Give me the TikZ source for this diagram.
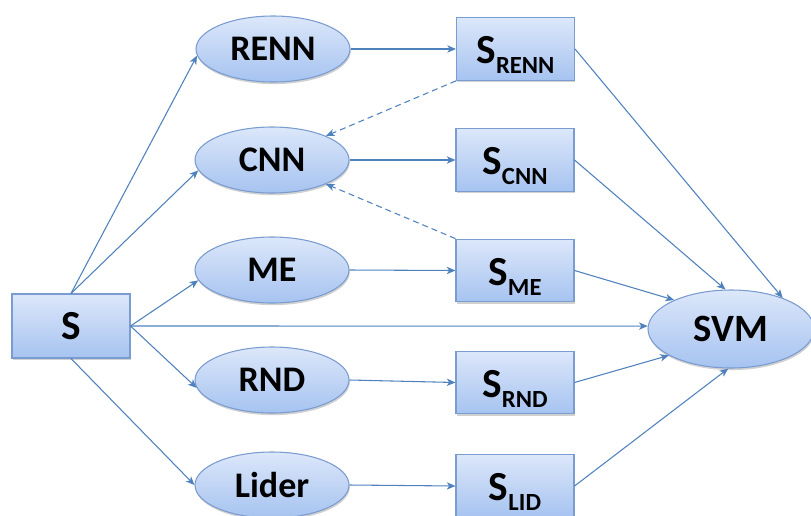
\documentclass[tikz,border=0pt]{standalone}
\usepackage{fontspec}
\setmainfont{Carlito}
\usetikzlibrary{shapes.geometric,arrows.meta,shadows}
\definecolor{edgeblue}{HTML}{4F81BD}
\definecolor{bordblue}{HTML}{7A9CD0}
\definecolor{filltop}{HTML}{DCE7FA}
\definecolor{fillbot}{HTML}{A6C3F0}
\tikzset{
  x=0.75pt, y=-0.75pt,
  shaded/.style={draw=bordblue, line width=0.8pt, top color=filltop, bottom color=fillbot,
    drop shadow={shadow xshift=0.6pt, shadow yshift=-1.6pt, opacity=0.3, fill=black!60}},
  oval/.style={shaded, ellipse, inner sep=0pt, minimum width=115.5pt, minimum height=49.5pt,
    font=\bfseries\fontsize{27}{27}\selectfont},
  sbox/.style={shaded, rectangle, inner sep=0pt, minimum width=88.5pt, minimum height=47pt,
    text height=22pt, text depth=0pt},
  link/.style={draw=edgeblue, line width=0.8pt, -{Stealth[length=6.5pt,width=5.5pt,inset=1.8pt]}},
  dlink/.style={link, dash pattern=on 4.5pt off 3pt},
}
\newcommand{\subS}[1]{{\bfseries\fontsize{31}{31}\selectfont S}\raisebox{-7.5pt}{\bfseries\fontsize{18.5}{18.5}\selectfont #1}}
\begin{document}
\begin{tikzpicture}
\useasboundingbox (0,0) rectangle (811,515);
% source
\node[shaded, rectangle, inner sep=0pt, minimum width=88.5pt, minimum height=48pt,
  font=\bfseries\fontsize{31}{31}\selectfont] (S) at (71,326) {S};
% ellipses
\node[oval] (RENN) at (273,49) {RENN};
\node[oval] (CNN) at (272,160) {CNN};
\node[oval] (ME) at (272,270) {ME};
\node[oval] (RND) at (272,380) {RND};
\node[oval] (LID) at (272,485) {Lider};
% subset boxes
\node[sbox] (SRENN) at (515.5,49) {\subS{RENN}};
\node[sbox] (SCNN) at (515,160) {\subS{CNN}};
\node[sbox] (SME) at (515,270.5) {\subS{ME}};
\node[sbox] (SRND) at (515,382.5) {\subS{RND}};
\node[sbox] (SLID) at (515,486) {\subS{LID}};
% classifier
\node[shaded, ellipse, inner sep=0pt, minimum width=124.5pt, minimum height=58.5pt,
  font=\bfseries\fontsize{29}{29}\selectfont] (SVM) at (731,329) {SVM};
% from S
\draw[link] (S.north) -- (RENN.185);
\draw[link] (S.north) -- (CNN.188);
\draw[link] (S.east) -- (ME.188);
\draw[link] (S.east) -- (SVM.178);
\draw[link] (S.east) -- (RND.186);
\draw[link] (S.south) -- (LID.180);
% to subsets
\draw[link] (RENN.east) -- (SRENN.west);
\draw[link] (CNN.east) -- (SCNN.west);
\draw[link] (ME.east) -- (SME.west);
\draw[link] (RND.east) -- (SRND.west);
\draw[link] (LID.east) -- (SLID.west);
% dashed feedback
\draw[dlink] (SRENN.south west) -- (CNN.24);
\draw[dlink] (SME.north west) -- (CNN.336);
% to SVM
\draw[link] (SRENN.east) -- (SVM.31);
\draw[link] (SCNN.east) -- (SVM.98);
\draw[link] (SME.east) -- (SVM.153);
\draw[link] (SRND.east) -- (SVM.203);
\draw[link] (SLID.east) -- (SVM.266);
\end{tikzpicture}
\end{document}
